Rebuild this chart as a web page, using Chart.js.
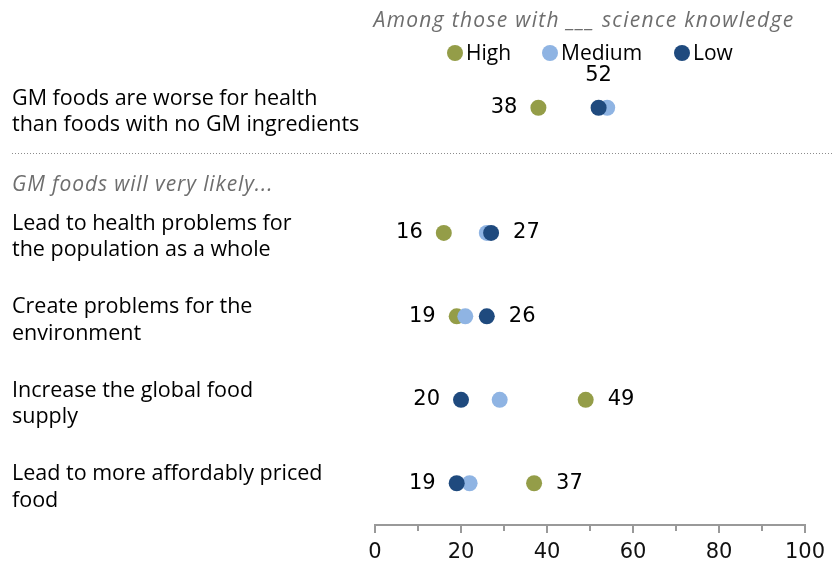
<!DOCTYPE html>
<html>
<head>
<meta charset="utf-8">
<script src="https://cdn.jsdelivr.net/npm/chart.js@4.4.1/dist/chart.umd.min.js"></script>
<style>
  html, body { margin: 0; padding: 0; background: #fff; }
</style>
</head>
<body>
<canvas id="chart" width="834" height="565"></canvas>
<script>
// chart data
const categories = [
  ["GM foods are worse for health", "than foods with no GM ingredients"],
  ["Lead to health problems for", "the population as a whole"],
  ["Create problems for the", "environment"],
  ["Increase the global food", "supply"],
  ["Lead to more affordably priced", "food"]
];
const seriesNames = ["High", "Medium", "Low"];
const highValues = [38, 16, 19, 49, 37];
const mediumValues = [54, 26, 21, 29, 22];
const lowValues = [52, 27, 26, 20, 19];
const xTickLabels = [0, 20, 40, 60, 80, 100];
const titleText = "Among those with ___ science knowledge";
const groupHeader = "GM foods will very likely...";

// layout stuff
const FONT = "'Open Sans', sans-serif";
const NUM_FONT = "'DejaVu Sans', sans-serif";
const colors = ["#949d48", "#8fb4e3", "#1f4a7e"];
// first row stands alone, the other four sit under the group header
const rowPos = categories.map((c, i) => i === 0 ? 0 : i + 0.5);

function points(vals) {
  return vals.map((v, i) => ({ x: v, y: rowPos[i] }));
}

const decor = {
  id: "decor",
  afterDraw(chart) {
    const ctx = chart.ctx;
    const xs = chart.scales.x;
    const ys = chart.scales.y;
    ctx.save();

    // title + legend
    ctx.font = "italic 21px " + FONT;
    ctx.letterSpacing = "1.3px";
    ctx.fillStyle = "#6e6e6e";
    ctx.textAlign = "center";
    ctx.textBaseline = "middle";
    ctx.fillText(titleText, 584, 21);
    ctx.letterSpacing = "0px";

    const legendX = [455, 550, 682];
    ctx.font = "21px " + FONT;
    ctx.textAlign = "left";
    seriesNames.forEach((name, i) => {
      ctx.fillStyle = colors[i];
      ctx.beginPath();
      ctx.arc(legendX[i], 53, 8, 0, Math.PI * 2);
      ctx.fill();
      ctx.fillStyle = "#000";
      ctx.fillText(name, legendX[i] + 11, 54);
    });

    // category labels
    ctx.font = "21.5px " + FONT;
    categories.forEach((lines, i) => {
      const y = ys.getPixelForValue(rowPos[i]) + 4;
      const lh = 26.5;
      const top = y - (lines.length - 1) * lh / 2;
      lines.forEach((t, k) => ctx.fillText(t, 12, top + k * lh));
    });

    // dotted separator and group header
    const sepY = Math.round(ys.getPixelForValue(0.54)) + 0.5;
    ctx.strokeStyle = "#8c8c8c";
    ctx.lineWidth = 1;
    ctx.setLineDash([1, 2]);
    ctx.beginPath();
    ctx.moveTo(12, sepY);
    ctx.lineTo(832, sepY);
    ctx.stroke();
    ctx.setLineDash([]);

    ctx.font = "italic 21px " + FONT;
    ctx.letterSpacing = "0.9px";
    ctx.fillStyle = "#6e6e6e";
    ctx.fillText(groupHeader, 12, ys.getPixelForValue(0.91) + 1);
    ctx.letterSpacing = "0px";

    // minor ticks on x axis
    ctx.strokeStyle = "#999";
    ctx.lineWidth = 2;
    for (let v = 10; v < 100; v += 20) {
      const x = Math.round(xs.getPixelForValue(v));
      ctx.beginPath();
      ctx.moveTo(x, xs.top);
      ctx.lineTo(x, xs.top + 6);
      ctx.stroke();
    }

    // value labels for High and Low
    ctx.font = "21px " + NUM_FONT;
    ctx.fillStyle = "#000";
    const hiMeta = chart.getDatasetMeta(0).data;
    const loMeta = chart.getDatasetMeta(2).data;
    categories.forEach((c, i) => {
      const a = { v: highValues[i], p: hiMeta[i] };
      const b = { v: lowValues[i], p: loMeta[i] };
      const lo = a.v <= b.v ? a : b;
      const hi = a.v <= b.v ? b : a;
      ctx.textAlign = "right";
      ctx.fillText(lo.v, lo.p.x - 21, lo.p.y);
      if (mediumValues[i] > hi.v) {
        ctx.textAlign = "center";
        ctx.fillText(hi.v, hi.p.x, hi.p.y - 32);
      } else {
        ctx.textAlign = "left";
        ctx.fillText(hi.v, hi.p.x + 22, hi.p.y);
      }
    });
    ctx.restore();
  }
};

new Chart(document.getElementById("chart"), {
  type: "scatter",
  data: {
    datasets: [
      { label: seriesNames[0], data: points(highValues), backgroundColor: colors[0], borderWidth: 0, pointRadius: 8, order: 2 },
      { label: seriesNames[1], data: points(mediumValues), backgroundColor: colors[1], borderWidth: 0, pointRadius: 8, order: 1 },
      { label: seriesNames[2], data: points(lowValues), backgroundColor: colors[2], borderWidth: 0, pointRadius: 8, order: 0 }
    ]
  },
  options: {
    responsive: false,
    animation: false,
    devicePixelRatio: 1,
    layout: { padding: { left: 375, right: 29, top: 66, bottom: 0 } },
    plugins: { legend: { display: false }, tooltip: { enabled: false } },
    scales: {
      x: {
        min: 0,
        max: 100,
        afterFit: s => { s.height = 40; },
        ticks: {
          stepSize: 20,
          autoSkip: false,
          maxRotation: 0,
          padding: 7,
          color: "#111",
          font: { family: NUM_FONT, size: 21 },
          callback: v => xTickLabels.includes(v) ? v : ""
        },
        grid: { drawOnChartArea: false, tickLength: 8, color: "#999", lineWidth: 2 },
        border: { color: "#999", width: 2 }
      },
      y: { display: false, reverse: true, min: -0.5, max: 5 }
    }
  },
  plugins: [decor]
});
</script>
</body>
</html>
